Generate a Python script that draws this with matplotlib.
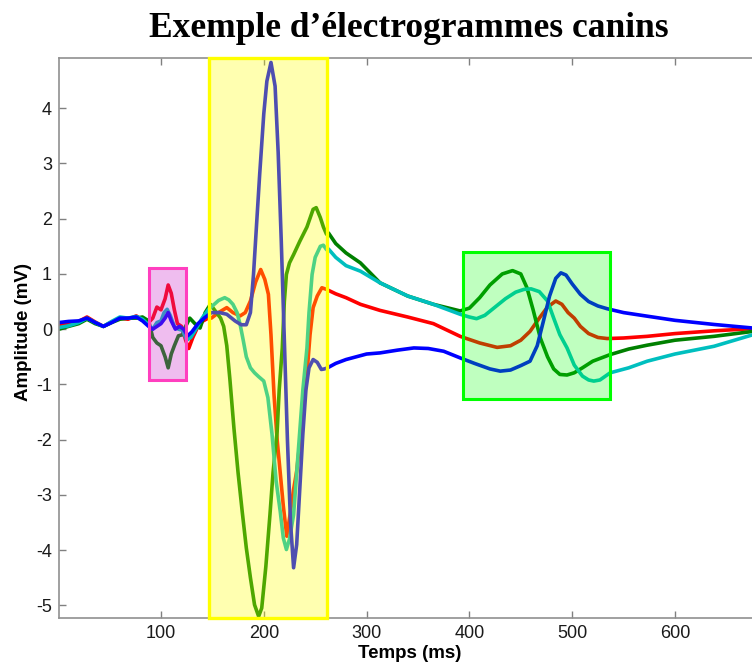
import matplotlib
matplotlib.use("Agg")
import matplotlib.pyplot as plt
from matplotlib.patches import Rectangle


# electrogram samples (time in ms, amplitude in mV)
blue_t = [1, 10, 20, 28, 36, 44, 52, 60, 68, 76,
          82, 88, 92, 96, 100, 104, 107, 110, 114, 118,
          122, 126, 130, 136, 142, 149, 157, 164, 172, 178,
          183, 187, 190, 193, 196, 200, 203, 207, 211, 214,
          217, 220, 223, 226, 229, 232, 235, 238, 241, 244,
          248, 252, 256, 259, 262, 270, 280, 290, 300, 313,
          330, 346, 360, 375, 391, 405, 420, 430, 440, 450,
          459, 466, 472, 478, 484, 489, 494, 500, 508, 516,
          525, 534, 550, 573, 600, 638, 676]
blue_mv = [0.12, 0.14, 0.15, 0.2, 0.12, 0.05, 0.12, 0.2, 0.2, 0.22,
           0.15, 0.05, 0.0, 0.05, 0.1, 0.2, 0.3, 0.15, 0.0, 0.05,
           0.0, -0.12, -0.05, 0.1, 0.2, 0.3, 0.3, 0.27, 0.15, 0.08,
           0.08, 0.3, 0.99, 1.9, 2.8, 3.9, 4.49, 4.83, 4.4, 3.2,
           1.6, -0.2, -2.0, -3.5, -4.32, -3.9, -2.9, -1.9, -1.1, -0.7,
           -0.55, -0.6, -0.73, -0.72, -0.70, -0.62, -0.55, -0.5, -0.45, -0.43,
           -0.38, -0.34, -0.35, -0.4, -0.52, -0.62, -0.72, -0.76, -0.74, -0.66,
           -0.58, -0.3, 0.145, 0.6, 0.92, 1.02, 0.98, 0.82, 0.63, 0.5,
           0.42, 0.37, 0.3, 0.235, 0.16, 0.085, 0.02]

red_t = [1, 10, 20, 28, 36, 44, 52, 60, 68, 76,
         82, 89, 92, 96, 100, 104, 107, 110, 113, 116,
         120, 124, 127, 131, 136, 141, 146, 149, 156, 164,
         170, 177, 182, 187, 192, 197, 201, 204.5, 207, 210,
         213, 216, 219, 222.4, 226, 229, 232, 236, 239, 242,
         245, 248, 252, 256.5, 261, 270, 280, 294, 313, 340,
         365, 391, 410, 427, 440, 450, 459, 468, 476, 484,
         490, 496, 502, 508, 516, 525, 534, 550, 573, 600,
         638, 676]
red_mv = [0.08, 0.1, 0.14, 0.22, 0.13, 0.05, 0.13, 0.2, 0.18, 0.24,
          0.16, 0.14, 0.2, 0.4, 0.35, 0.55, 0.8, 0.65, 0.35, 0.1,
          0.05, -0.2, -0.35, -0.15, 0.05, 0.15, 0.2, 0.2, 0.3, 0.39,
          0.3, 0.24, 0.3, 0.51, 0.85, 1.08, 0.9, 0.63, -0.1, -1.2,
          -2.0, -2.6, -3.2, -3.75, -3.3, -2.9, -2.57, -1.9, -1.35, -0.82,
          -0.1, 0.39, 0.6, 0.75, 0.72, 0.64, 0.57, 0.45, 0.34, 0.22,
          0.1, -0.13, -0.25, -0.33, -0.3, -0.2, -0.04, 0.2, 0.4, 0.51,
          0.45, 0.3, 0.2, 0.05, -0.08, -0.15, -0.17, -0.16, -0.13, -0.08,
          -0.03, 0.01]

green_t = [1, 10, 20, 28, 36, 44, 52, 60, 68, 76,
           82, 88, 92, 96, 100, 104, 107, 110, 113, 117,
           121, 124, 128, 133, 138, 143, 148, 154, 158, 161,
           164, 167, 171, 175, 179, 183, 187, 191, 195, 198,
           202, 206, 209, 213, 215, 218, 220, 222, 225, 229,
           235, 242, 248, 251, 255, 258, 261, 263, 270, 280,
           294, 313, 340, 365, 391, 400, 410, 420, 432, 442,
           450, 456, 462, 469, 476, 482, 488, 495, 502, 510,
           520, 537, 555, 573, 600, 638, 676]
green_mv = [0.0, 0.05, 0.1, 0.18, 0.1, 0.05, 0.12, 0.18, 0.2, 0.2,
            0.22, 0.15, -0.15, -0.25, -0.3, -0.5, -0.7, -0.45, -0.3, -0.12,
            -0.1, 0.05, 0.2, 0.1, 0.02, 0.3, 0.45, 0.3, 0.2, 0.05,
            -0.3, -0.9, -1.8, -2.6, -3.3, -3.96, -4.5, -4.99, -5.2, -5.05,
            -4.3, -3.36, -2.6, -1.85, -1.1, -0.34, 0.5, 0.99, 1.2, 1.35,
            1.59, 1.85, 2.17, 2.2, 2.02, 1.85, 1.72, 1.74, 1.55, 1.38,
            1.2, 0.84, 0.6, 0.45, 0.33, 0.38, 0.57, 0.8, 1.0, 1.06,
            1.0, 0.75, 0.35, -0.16, -0.5, -0.72, -0.82, -0.83, -0.79, -0.7,
            -0.58, -0.46, -0.36, -0.29, -0.2, -0.13, -0.04]

cyan_t = [1, 10, 20, 28, 36, 44, 52, 60, 68, 76,
          82, 88, 92, 96, 100, 103, 106, 109, 113, 117,
          121, 125, 129, 134, 140, 146, 150, 156, 162, 166,
          170, 174, 177, 180, 183, 187, 191, 195, 200, 204,
          208, 212, 216, 219, 222, 225, 229, 232, 235, 238,
          242, 244, 247, 250, 255, 258, 261, 263, 270, 280,
          294, 313, 340, 365, 391, 400, 407, 415, 425, 435,
          445, 453, 460, 468, 476, 482, 488, 495, 502, 510,
          516, 521, 527, 537, 555, 573, 600, 638, 676]
cyan_mv = [0.03, 0.06, 0.12, 0.2, 0.12, 0.05, 0.14, 0.22, 0.2, 0.23,
           0.18, 0.08, 0.0, 0.12, 0.15, 0.3, 0.36, 0.25, 0.05, 0.0,
           -0.02, -0.2, -0.15, 0.0, 0.2, 0.35, 0.42, 0.52, 0.57, 0.53,
           0.45, 0.3, 0.085, -0.2, -0.5, -0.7, -0.79, -0.86, -0.94, -1.24,
           -1.9, -2.75, -3.3, -3.78, -3.99, -3.8, -3.36, -2.6, -1.85, -1.1,
           -0.34, 0.3, 0.99, 1.3, 1.5, 1.52, 1.44, 1.45, 1.3, 1.15,
           1.05, 0.84, 0.6, 0.45, 0.27, 0.22, 0.19, 0.25, 0.4, 0.55,
           0.67, 0.72, 0.73, 0.68, 0.51, 0.2, -0.1, -0.34, -0.65, -0.85,
           -0.92, -0.94, -0.92, -0.79, -0.7, -0.58, -0.45, -0.31, -0.1]

# highlighted windows: (t_start, t_end, mv_low, mv_high)
p_wave_box = (88.3, 124.0, -0.92, 1.11)
qrs_box = (146.7, 261.8)
t_wave_box = (394.1, 536.8, -1.27, 1.39)

x_ticks = [100, 200, 300, 400, 500, 600]
y_ticks = [-5, -4, -3, -2, -1, 0, 1, 2, 3, 4]

plt.rcParams['font.family'] = ['Liberation Sans', 'DejaVu Sans']
plt.rcParams['axes.unicode_minus'] = False

fig = plt.figure(figsize=(7.52, 6.66), dpi=100)
ax = fig.add_axes([59 / 752, 48 / 666, 701 / 752, 560 / 666])

lw = 2.6
ax.plot(red_t, red_mv, color='#ff0000', lw=lw, zorder=2)
ax.plot(green_t, green_mv, color='#008000', lw=lw, zorder=2)
ax.plot(cyan_t, cyan_mv, color='#00bfbf', lw=lw, zorder=2)
ax.plot(blue_t, blue_mv, color='#0000ff', lw=lw, zorder=2)

# translucent boxes on top of the traces
x0, x1, y0, y1 = p_wave_box
ax.add_patch(Rectangle((x0, y0), x1 - x0, y1 - y0, facecolor=(0.8, 0.15, 0.8, 0.3),
                       edgecolor='#ff3fbf', lw=2.2, zorder=3))
ax.axvspan(qrs_box[0], qrs_box[1], facecolor=(1, 1, 0, 0.31), edgecolor='#ffff00',
           lw=2.4, zorder=3, clip_on=False)
x0, x1, y0, y1 = t_wave_box
ax.add_patch(Rectangle((x0, y0), x1 - x0, y1 - y0, facecolor=(0, 1, 0, 0.25),
                       edgecolor='#00ff00', lw=2.2, zorder=3))

ax.set_xlim(0.8, 682.7)
ax.set_ylim(-5.23, 4.91)
ax.set_xticks(x_ticks)
ax.set_yticks(y_ticks)
ax.tick_params(direction='in', length=5, width=1, color='#808080', labelsize=13,
               labelcolor='#1a1a1a', top=True, right=False, pad=5)
for side in ['left', 'bottom', 'top', 'right']:
    ax.spines[side].set_color('#909090')
    ax.spines[side].set_linewidth(1.2)

ax.set_xlabel('Temps (ms)', fontsize=13.5, fontweight='bold', labelpad=2)
ax.set_ylabel('Amplitude (mV)', fontsize=13.5, fontweight='bold')
ax.yaxis.set_label_coords(-0.039, 0.51)

fig.text(409 / 752, 1 - 37 / 666, 'Exemple d\u2019électrogrammes canins',
         ha='center', va='baseline', fontsize=25.5, fontweight='bold',
         family=['Liberation Serif', 'DejaVu Serif'])

fig.savefig('out.png', dpi=100)
